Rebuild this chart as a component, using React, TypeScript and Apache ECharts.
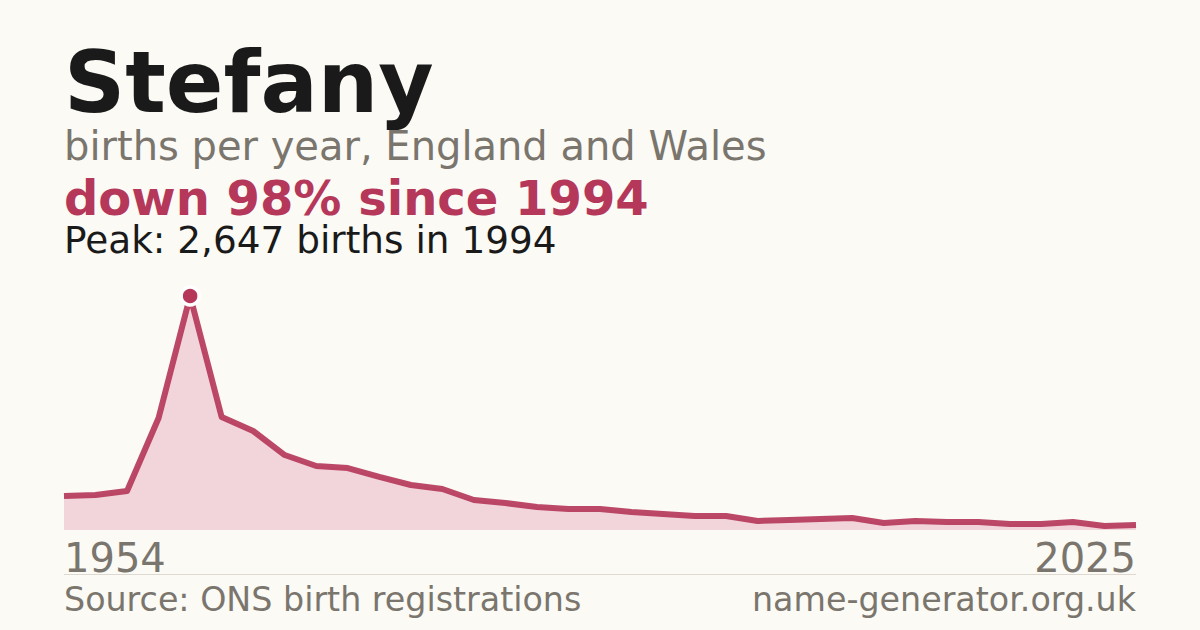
import React, { useEffect, useRef } from "react";
import * as echarts from "echarts";

const years = [
  "1990", "1991", "1992", "1993", "1994", "1995", "1996", "1997", "1998", "1999",
  "2000", "2001", "2002", "2003", "2004", "2005", "2006", "2007", "2008", "2009",
  "2010", "2011", "2012", "2013", "2014", "2015", "2016", "2017", "2018", "2019",
  "2020", "2021", "2022", "2023", "2024",
];
const births = [
  385, 396, 441, 1267, 2647, 1278, 1120, 848, 724, 701,
  600, 509, 464, 339, 305, 260, 238, 238, 204, 181,
  158, 158, 102, 113, 124, 136, 79, 102, 90, 90,
  68, 68, 90, 45, 57,
];
const axisEndLabels = ["1954", "2025"];
const peakIndex = 4;

const titleText = "Stefany";
const subtitleText = "births per year, England and Wales";
const changeText = "down 98% since 1994";
const peakText = "Peak: 2,647 births in 1994";
const sourceText = "Source: ONS birth registrations";
const siteText = "name-generator.org.uk";

const FONT = "'DejaVu Sans', sans-serif";
const ACCENT = "#b5385a";
const GREY = "#7a756d";
const DARK = "#1a1a1a";
const BG = "#fbfaf5";

export default function App() {
  const ref = useRef<HTMLDivElement>(null);
  useEffect(() => {
    document.body.style.margin = "0";
    if (!ref.current) return;
    const chart = echarts.init(ref.current, null, { renderer: "svg" });
    const peakData = births.map((v, i) => (i === peakIndex ? v : null));
    const txt = (text: string, x: number, baseline: number, size: number, color: string, weight: string, align: string) => ({
      type: "text",
      x,
      y: baseline - 0.36 * size,
      style: {
        text,
        fill: color,
        font: `${weight} ${size}px ${FONT}`,
        align,
        verticalAlign: "middle",
      },
      silent: true,
    });
    chart.setOption({
      animation: false,
      backgroundColor: BG,
      grid: { left: 64, right: 64, top: 296, bottom: 100, containLabel: false },
      xAxis: {
        type: "category",
        data: years,
        boundaryGap: false,
        axisLine: { show: false },
        axisTick: { show: false },
        axisLabel: { show: false },
        splitLine: { show: false },
      },
      yAxis: {
        type: "value",
        min: 0,
        max: 2647,
        show: false,
        splitLine: { show: false },
      },
      series: [
        {
          type: "line",
          data: births,
          symbol: "none",
          lineStyle: { color: ACCENT, width: 6, opacity: 0.92, join: "round" },
          areaStyle: { color: "#f2d5db", opacity: 1 },
          z: 2,
        },
        {
          type: "line",
          data: peakData,
          symbol: "circle",
          symbolSize: 18,
          lineStyle: { width: 0 },
          itemStyle: { color: ACCENT, borderColor: "#ffffff", borderWidth: 3.5 },
          z: 3,
        },
      ],
      graphic: [
        txt(titleText, 64, 113, 85, DARK, "bold", "left"),
        txt(subtitleText, 64, 160, 40, GREY, "normal", "left"),
        txt(changeText, 64, 215, 48, ACCENT, "bold", "left"),
        txt(peakText, 64, 253, 37.4, DARK, "normal", "left"),
        txt(axisEndLabels[0], 64, 572, 40, GREY, "normal", "left"),
        txt(axisEndLabels[1], 1136, 572, 40, GREY, "normal", "right"),
        {
          type: "line",
          shape: { x1: 64, y1: 574.5, x2: 1136, y2: 574.5 },
          style: { stroke: "#ddd9d0", lineWidth: 1 },
          silent: true,
        },
        txt(sourceText, 64, 611, 33.3, GREY, "normal", "left"),
        txt(siteText, 1136, 611, 33.3, GREY, "normal", "right"),
      ],
    });
    return () => chart.dispose();
  }, []);
  return <div ref={ref} style={{ width: 1200, height: 630 }} />;
}
